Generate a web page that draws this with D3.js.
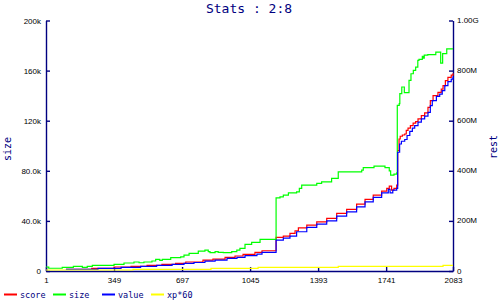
<!DOCTYPE html>
<html>
<head>
<meta charset="utf-8">
<script src="https://cdn.jsdelivr.net/npm/d3@7"></script>
<style>
  body { margin: 0; background: #fff; }
  svg { display: block; font-family: "DejaVu Sans Mono", monospace; }
</style>
</head>
<body>
<svg></svg>
<script>
const width = 500;
const height = 300;
const plotLeft = 46, plotRight = 453, plotTop = 20.5, plotBottom = 271;

// x ticks (game time)
const xTicks = [1, 349, 697, 1045, 1393, 1741, 2083];
// left axis: size (k), right axis: rest (M)
const leftTicks = [0, 40, 80, 120, 160, 200];
const leftLabels = ["0", "40.0k", "80.0k", "120k", "160k", "200k"];
const rightTicks = [0, 200, 400, 600, 800, 1000];
const rightLabels = ["0", "200M", "400M", "600M", "800M", "1.00G"];

// [time, value in M] - score
const score = [
  [103, 6.8], [235, 10.8], [349, 15.9], [436, 18.7], [518, 22.7], [594, 26.7],
  [664, 30.7], [716, 36], [804, 43.8], [855, 47.8], [917, 54.6], [968, 59.8],
  [1009, 66.5], [1070, 74.5], [1106, 80.9], [1178, 134.3], [1215, 139.4],
  [1249, 150.2], [1275, 160.6], [1292, 172.5], [1335, 183.3], [1386, 196.4],
  [1437, 209.9], [1488, 229.9], [1539, 245.8], [1590, 266.9], [1633, 285.7],
  [1675, 302.8], [1718, 318.7], [1744, 329.5], [1757, 338.6], [1769, 322.7],
  [1781, 329.5], [1795, 342.6], [1800, 481], [1807, 527], [1813, 538],
  [1824, 543], [1836, 547], [1844, 561], [1853, 570], [1865, 580], [1879, 590],
  [1892, 596], [1904, 607], [1921, 620], [1938, 631], [1955, 653], [1967, 680],
  [1981, 700], [2006, 713], [2023, 726], [2032, 740], [2044, 760], [2057, 773],
  [2074, 782], [2083, 789]
];

// [time, value in k] - size
const size = [
  [1, 3.2], [15, 2.2], [84, 2.9], [141, 3.7], [187, 2.9], [212, 3.7], [238, 4.5],
  [349, 5.3], [400, 6.4], [451, 7.2], [477, 6.6], [502, 7.2], [543, 8.0],
  [562, 9.3], [583, 8.5], [596, 9.3], [639, 10.6], [690, 11.2], [707, 12.7],
  [733, 14.1], [780, 15.9], [814, 16.7], [831, 15.4], [840, 14.6], [866, 15.4],
  [882, 14.9], [908, 14.6], [951, 15.4], [977, 16.7], [993, 18.1], [1019, 21.3],
  [1053, 22.9], [1096, 25.3], [1178, 58.4], [1198, 59.2], [1215, 60.6],
  [1241, 62.4], [1283, 63.2], [1297, 65.9], [1309, 68.5], [1386, 69.9],
  [1411, 71.2], [1462, 73.9], [1496, 79.1], [1616, 80.5], [1624, 82.6],
  [1679, 83.7], [1735, 82.6], [1757, 79.9], [1764, 76.5], [1781, 77.3],
  [1795, 78.3], [1798, 132.3], [1808, 133.6], [1811, 141.6], [1821, 146.9],
  [1834, 142.4], [1858, 152.2], [1868, 157.5], [1880, 160.2], [1892, 162.8],
  [1903, 168.1], [1909, 168.9], [1926, 171.3], [1931, 170.0], [1936, 172.3],
  [1954, 172.7], [1995, 174.7], [2020, 166.0], [2030, 173.5], [2051, 177.4],
  [2083, 177.4]
];

// [time, value in M] - value
const value = [
  [103, 6.8], [267, 10.8], [385, 14.7], [485, 18.7], [567, 22.7], [646, 26.7],
  [707, 30.7], [758, 33.9], [814, 39.8], [866, 43.8], [927, 50.6], [978, 54.6],
  [1019, 61.0], [1080, 67.7], [1106, 74.5], [1178, 123.5], [1215, 131.5],
  [1249, 139.4], [1283, 156.6], [1335, 174.1], [1386, 187.2], [1437, 200.4],
  [1488, 219.1], [1539, 236.2], [1590, 256.2], [1633, 276.1], [1675, 293.6],
  [1718, 311.9], [1752, 325.5], [1761, 311.9], [1775, 322.7], [1795, 329.5],
  [1800, 474], [1810, 507], [1819, 518], [1836, 525], [1848, 541], [1862, 557],
  [1875, 570], [1887, 580], [1904, 594], [1921, 607], [1938, 618], [1955, 633],
  [1967, 660], [1977, 680], [1998, 697], [2015, 706], [2028, 720], [2041, 740],
  [2057, 756], [2074, 766], [2083, 777]
];

// [time, value in M] - xp*60
const xp = [
  [1, 4.0], [446, 6.8], [845, 10.8], [1086, 14.7], [1496, 18.7], [2032, 22.7],
  [2083, 22.7]
];

const legendNames = ["score", "size", "value", "xp*60"];
const legendColors = ["#ff0000", "#00ff00", "#0000ff", "#ffff00"];

const navy = "#000080";

let svg = d3.select("svg")
    .attr("width", width)
    .attr("height", height);

let x = d3.scaleLinear().domain([1, 2083]).range([plotLeft, plotRight]);
let yLeft = d3.scaleLinear().domain([0, 200]).range([plotBottom, plotTop]);
let yRight = d3.scaleLinear().domain([0, 1000]).range([plotBottom, plotTop]);

// title
svg.append("text")
    .attr("x", 249)
    .attr("y", 12.5)
    .attr("text-anchor", "middle")
    .style("font-size", "13px")
    .style("fill", navy)
    .text("Stats : 2:8");

// axes
function styleAxis(g) {
    g.selectAll("path, line").attr("stroke", navy).attr("stroke-width", 1.4);
    g.selectAll("text").style("font-size", "8px").attr("fill", "#000").attr("font-family", null);
}

svg.append("g")
    .attr("transform", `translate(${plotLeft},0)`)
    .call(d3.axisLeft(yLeft).tickValues(leftTicks)
        .tickFormat((d, i) => leftLabels[i]).tickSize(-4).tickSizeOuter(0).tickPadding(5))
    .call(styleAxis);

svg.append("g")
    .attr("transform", `translate(${plotRight},0)`)
    .call(d3.axisRight(yRight).tickValues(rightTicks)
        .tickFormat((d, i) => rightLabels[i]).tickSize(-4).tickSizeOuter(0).tickPadding(4))
    .call(styleAxis)
    .selectAll("text").attr("dy", "0.25em");

svg.append("g")
    .attr("transform", `translate(0,${plotBottom})`)
    .call(d3.axisBottom(x).tickValues(xTicks)
        .tickFormat(d3.format("d")).tickSize(-4).tickSizeOuter(0).tickPadding(6))
    .call(styleAxis);

// axis titles
svg.append("text")
    .attr("transform", "translate(11,149) rotate(-90)")
    .attr("text-anchor", "middle")
    .style("font-size", "10px")
    .style("fill", navy)
    .text("size");

svg.append("text")
    .attr("transform", "translate(497,147) rotate(-90)")
    .attr("text-anchor", "middle")
    .style("font-size", "10px")
    .style("fill", navy)
    .text("rest");

// lines
function drawLine(data, yScale, color) {
    let line = d3.line()
        .x(d => x(d[0]))
        .y(d => yScale(d[1]))
        .curve(d3.curveStepAfter);
    svg.append("path")
        .datum(data)
        .attr("d", line)
        .attr("fill", "none")
        .attr("stroke", color)
        .attr("stroke-width", 1.2);
}

drawLine(score, yRight, legendColors[0]);
drawLine(size, yLeft, legendColors[1]);
drawLine(value, yRight, legendColors[2]);
drawLine(xp, yRight, legendColors[3]);

// legend
const legendX = [4, 53, 102, 151];
let legend = svg.selectAll(".legend")
    .data(legendNames)
    .enter()
    .append("g")
    .attr("transform", (d, i) => `translate(${legendX[i]},294.5)`);

legend.append("line")
    .attr("x1", 0).attr("x2", 13)
    .attr("stroke", (d, i) => legendColors[i])
    .attr("stroke-width", 2);

legend.append("text")
    .attr("x", 16)
    .attr("y", 3)
    .style("font-size", "8.5px")
    .style("fill", navy)
    .text(d => d);
</script>
</body>
</html>
